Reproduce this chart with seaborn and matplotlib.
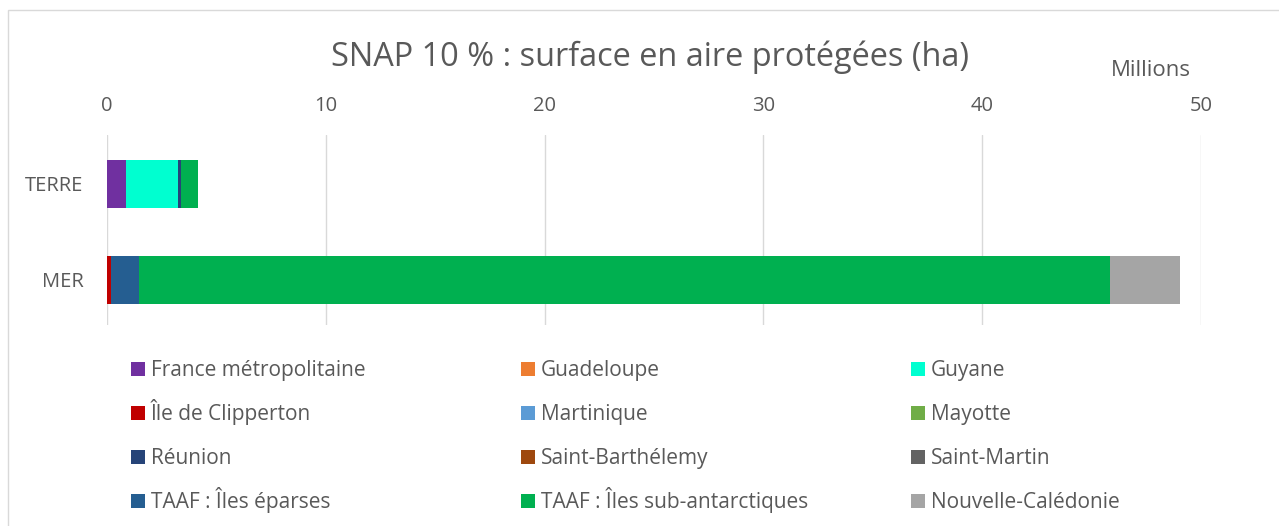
import pandas as pd
import seaborn as sns
from matplotlib import pyplot as plt
from matplotlib.patches import Rectangle

# Données (millions d'hectares)
categories = ['TERRE', 'MER']
territoires = ['France métropolitaine', 'Guadeloupe', 'Guyane',
               'Île de Clipperton', 'Martinique', 'Mayotte',
               'Réunion', 'Saint-Barthélemy', 'Saint-Martin',
               'TAAF : Îles éparses', 'TAAF : Îles sub-antarctiques', 'Nouvelle-Calédonie']
terre = [0.87, 0.0, 2.38, 0.0, 0.0, 0.0, 0.13, 0.0, 0.0, 0.0, 0.78, 0.0]
mer = [0.0, 0.0, 0.0, 0.18, 0.0, 0.0, 0.0, 0.0, 0.0, 1.28, 44.38, 3.2]
couleurs = ['#7030A0', '#ED7D31', '#00FFD0',
            '#C00000', '#5B9BD5', '#70AD47',
            '#264478', '#9E480E', '#636363',
            '#255E91', '#00B050', '#A5A5A5']

df = pd.DataFrame({'TERRE': terre, 'MER': mer}, index=territoires)
cum = df.cumsum()

sns.set_theme(style='white')
plt.rcParams['font.family'] = ['Open Sans', 'DejaVu Sans']
gris = '#595959'

W, H = 1279, 526
fig = plt.figure(figsize=(W / 100, H / 100), dpi=100)
ax = fig.add_axes([107 / W, 1 - 325 / H, (1201 - 107) / W, 190 / H])

# barres empilées : on dessine les cumuls du plus grand au plus petit
for nom, coul in reversed(list(zip(territoires, couleurs))):
    sns.barplot(x=cum.loc[nom, categories].values, y=categories, color=coul,
                orient='h', width=0.5, saturation=1, linewidth=0, ax=ax)

ax.set_xlim(0, 50)
ax.set_ylim(1.47, -0.51)
ax.xaxis.tick_top()
ax.set_xticks([0, 10, 20, 30, 40, 50])
ax.tick_params(axis='x', length=0, labelsize=14.5, colors=gris, pad=14)
ax.tick_params(axis='y', length=0, labelsize=14.5, colors=gris, pad=17)
ax.grid(axis='x', color='#D9D9D9', linewidth=1)
ax.set_axisbelow(True)
for s in ax.spines.values():
    s.set_visible(False)
ax.set_xlabel('')
ax.set_ylabel('')

fig.text(0.508, 1 - 57 / H, 'SNAP 10 % : surface en aire protégées (ha)',
         ha='center', va='center', fontsize=23.4, color=gris)
fig.text(1151 / W, 1 - 71 / H, 'Millions', ha='center', va='center',
         fontsize=16, color=gris)

# légende : 3 colonnes x 4 lignes, remplie par ligne
xs = [131, 521, 911]
ys = [369, 413, 457, 501]
for i, (nom, coul) in enumerate(zip(territoires, couleurs)):
    r, c = divmod(i, 3)
    x0, y0 = xs[c], ys[r]
    fig.patches.append(Rectangle((x0 / W, 1 - (y0 + 7) / H), 14 / W, 14 / H,
                                 transform=fig.transFigure, facecolor=coul,
                                 edgecolor='none'))
    fig.text((x0 + 20) / W, 1 - (y0 + 7) / H, nom, ha='left', va='baseline',
             fontsize=15, color=gris)

fig.patches.append(Rectangle((8 / W, -0.1), 1.2, 1 - 10 / H + 0.1,
                             transform=fig.transFigure, fill=False,
                             edgecolor='#D9D9D9', linewidth=1))

fig.savefig('out.png', dpi=100, facecolor='white')
